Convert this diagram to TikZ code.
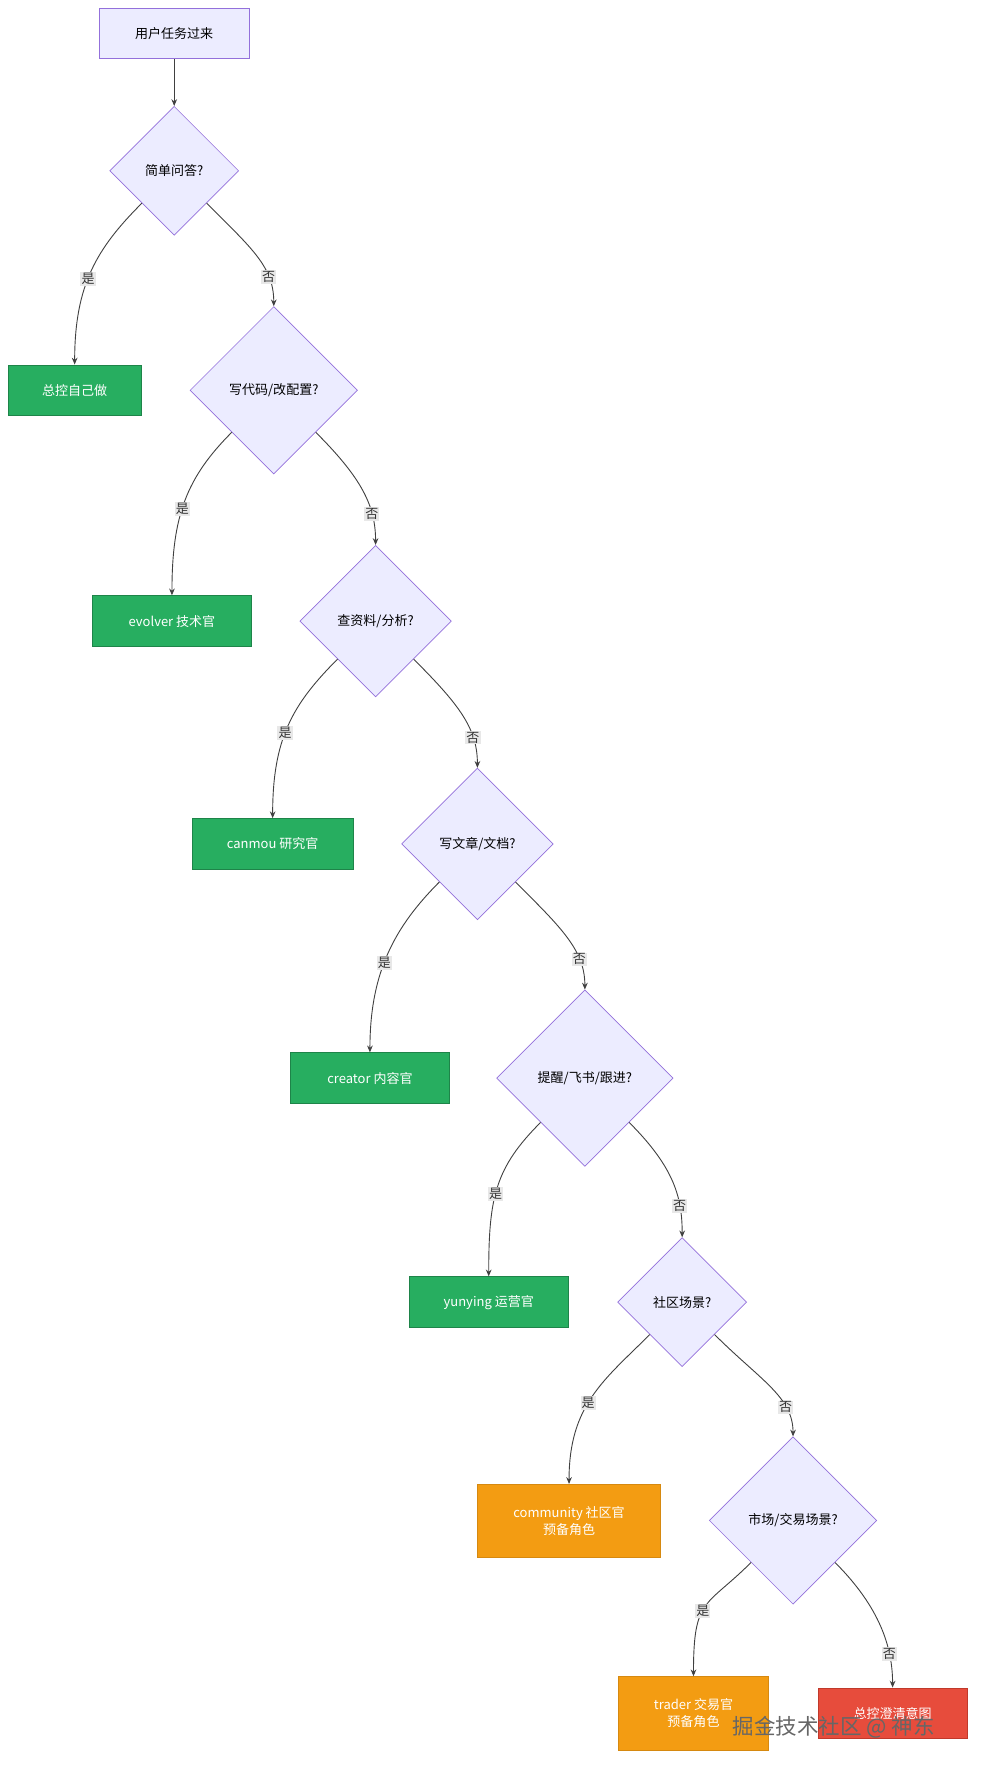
\documentclass[tikz,border=0pt]{standalone}
\usepackage{fontspec}
\setmainfont{Noto Sans CJK SC}
\usetikzlibrary{shapes.geometric,arrows.meta}
\definecolor{dfill}{HTML}{ECECFF}
\definecolor{dline}{HTML}{9370DB}
\definecolor{gfill}{HTML}{27AE60}
\definecolor{gline}{HTML}{1E8449}
\definecolor{ofill}{HTML}{F39C12}
\definecolor{oline}{HTML}{D68910}
\definecolor{rfill}{HTML}{E74C3C}
\definecolor{rline}{HTML}{C0392B}
\begin{document}
\begin{tikzpicture}[x=1pt,y=-1pt,font=\fontsize{11.5}{15}\selectfont,
 dia/.style={diamond,draw=dline,fill=dfill,inner sep=0pt,line width=0.6pt},
 start/.style={draw=dline,fill=dfill,minimum width=132pt,minimum height=45pt,line width=0.6pt},
 gbox/.style={draw=gline,fill=gfill,text=white,minimum height=45pt,line width=0.6pt},
 obox/.style={draw=oline,fill=ofill,text=white,minimum height=65pt,align=center,line width=0.6pt},
 rbox/.style={draw=rline,fill=rfill,text=white,minimum height=45pt,line width=0.6pt},
 edge/.style={draw=black!75,line width=0.8pt,-{Stealth[length=6pt,width=5pt]}},
 lab/.style={fill=black!9,inner sep=1pt,text=black!80}]
\useasboundingbox (0,0) rectangle (870,1569);
\node[start] (s) at (154,29.5) {用户任务过来};
\node[dia,minimum width=114pt,minimum height=114pt] (d1) at (154,151) {简单问答?};
\node[gbox,minimum width=118pt] (a) at (66,345) {总控自己做};
\node[dia,minimum width=148pt,minimum height=148pt] (d2) at (242,345) {写代码/改配置?};
\node[gbox,minimum width=140pt] (b) at (152,549) {evolver 技术官};
\node[dia,minimum width=134pt,minimum height=134pt] (d3) at (332,549) {查资料/分析?};
\node[gbox,minimum width=142pt] (c) at (241,746) {canmou 研究官};
\node[dia,minimum width=134pt,minimum height=134pt] (d4) at (422,746) {写文章/文档?};
\node[gbox,minimum width=140pt] (d) at (327,953) {creator 内容官};
\node[dia,minimum width=156pt,minimum height=156pt] (d5) at (517,953) {提醒/飞书/跟进?};
\node[gbox,minimum width=141pt] (e) at (432,1151) {yunying 运营官};
\node[dia,minimum width=114pt,minimum height=114pt] (d6) at (603,1151) {社区场景?};
\node[obox,minimum width=162pt] (f) at (503,1344.5) {community 社区官\\预备角色};
\node[dia,minimum width=148pt,minimum height=148pt] (d7) at (701,1344) {市场/交易场景?};
\node[obox,minimum width=133pt] (g) at (613,1514.5) {trader 交易官\\预备角色};
\node[rbox,minimum width=132pt] (h) at (789,1514.5) {总控澄清意图};
\draw[edge] (s) -- (d1);
\foreach \dd/\yy/\nn in {d1/a/d2,d2/b/d3,d3/c/d4,d4/d/d5,d5/e/d6,d6/f/d7,d7/g/h}{
 \draw[edge] (\dd.south west) .. controls +(-40,40) and +(0,-70) .. node[lab,pos=0.55]{是} (\yy.north);
 \draw[edge] (\dd.south east) .. controls +(40,40) and +(0,-35) .. node[lab,pos=0.72]{否} (\nn.north);
}
\node[text=black!60,font=\fontsize{19}{22}\selectfont] (wm) at (737,1527) {掘金技术社区 @ 神东};
\end{tikzpicture}
\end{document}
